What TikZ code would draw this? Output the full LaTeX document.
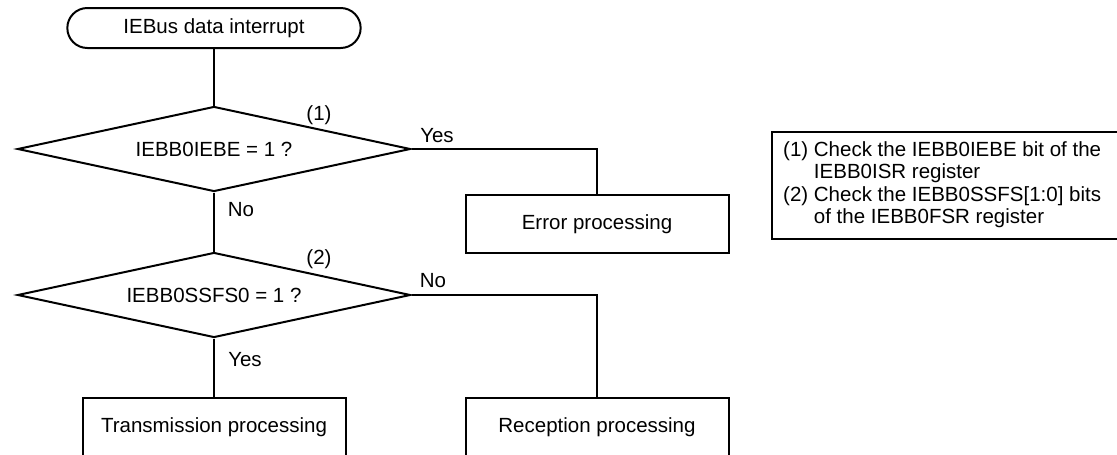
\documentclass[tikz,border=0pt]{standalone}
\usepackage{fontspec}
\setmainfont{Liberation Sans}
\usetikzlibrary{shapes.geometric,shapes.misc}

\tikzset{
  flow/.style={line width=2pt},
  terminal/.style={draw, line width=2pt, rounded rectangle, minimum width=300pt, minimum height=40pt},
  decision/.style={draw, line width=2pt, diamond, aspect=4.6, inner sep=0pt,
    minimum width=393pt, minimum height=85pt},
  process/.style={draw, line width=2pt, minimum width=263pt, minimum height=58pt},
  noteframe/.style={line width=1.2pt},
  notetext/.style={anchor=north west, align=left, inner sep=0pt}
}

\begin{document}
\begin{tikzpicture}[x=1pt, y=-1pt, every node/.style={font=\fontsize{20.5}{22.5}\selectfont}]
    \useasboundingbox (0,0) rectangle (1117,455);

    % flow chart
    \node[terminal] (start) at (214,28) {IEBus data interrupt};
    \node[decision] (chk1) at (214,149) {IEBB0IEBE = 1 ?};
    \node[decision] (chk2) at (214,295) {IEBB0SSFS0 = 1 ?};
    \node[process] (err) at (597,224) {Error processing};
    \node[process] (tx) at (214,427) {Transmission processing};
    \node[process] (rx) at (597,427) {Reception processing};

    % connectors
    \draw[flow] (start.south) -- (chk1.north);
    \draw[flow] (chk1.east) -| (err.north);
    \draw[flow] (chk1.south) -- (chk2.north);
    \draw[flow] (chk2.east) -| (rx.north);
    \draw[flow] (chk2.south) -- (tx.north);

    % branch labels
    \node (mark1) at (319,115) {(1)};
    \node (mark2) at (319,259) {(2)};
    \node (yes1) at (437,136) {Yes};
    \node (no1) at (241,210) {No};
    \node (no2) at (433,281) {No};
    \node (yes2) at (245,360) {Yes};

    % notes
    \draw[noteframe] (772,132) rectangle (1125,239);
    \node[notetext] (notes) at (783,141) {%
        (1) Check the IEBB0IEBE bit of the\\
        \phantom{(1)}\ IEBB0ISR register\\
        (2) Check the IEBB0SSFS[1:0] bits\\
        \phantom{(2)}\ of the IEBB0FSR register};

\end{tikzpicture}
\end{document}
